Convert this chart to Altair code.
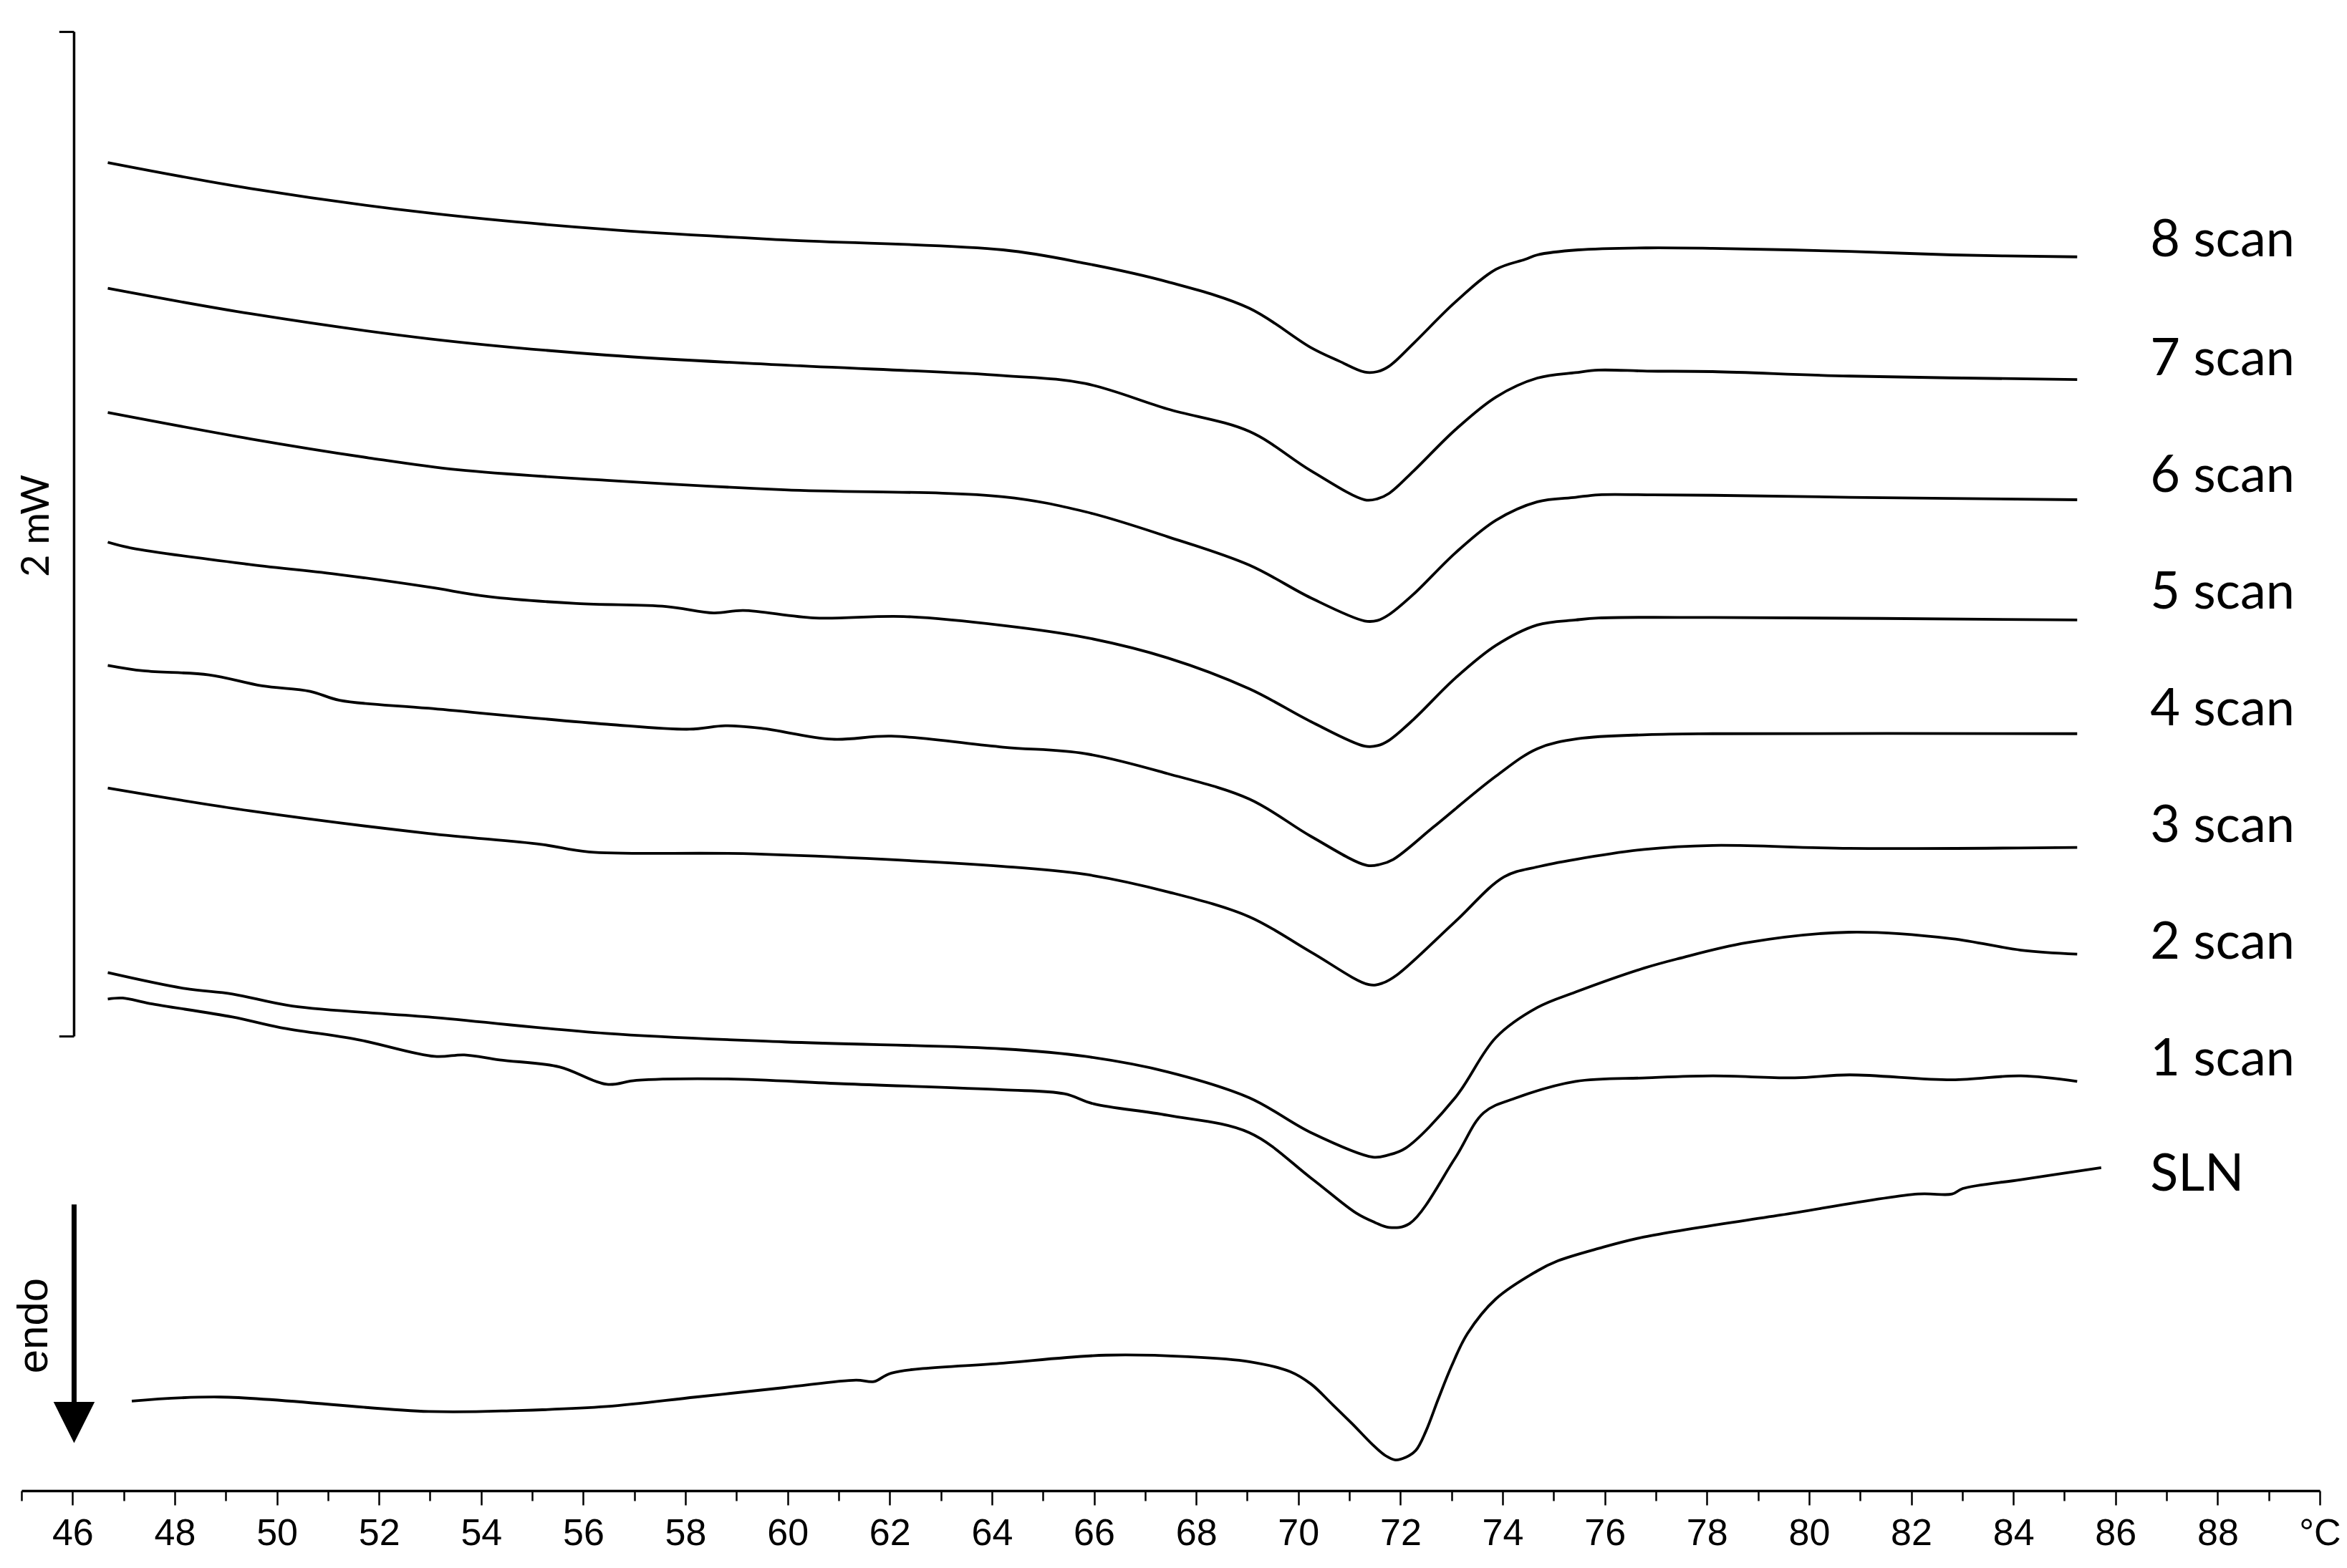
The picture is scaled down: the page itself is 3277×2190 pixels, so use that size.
import altair as alt
import pandas as pd

# ---- Readings from the thermogram: temperature (°C) and offset heat flow (µW) ----
scan8_t = [46.69, 49.49, 52.97, 56.46, 59.94, 64.22, 65.83, 67.44, 69.04, 70.25, 70.8, 71.30, 71.55, 71.78, 72.26, 73.07, 73.87, 74.44, 74.68, 75.48, 76.83, 78.11, 80.79, 82.80, 85.25]
scan8_v = [2818, 2766, 2717, 2684, 2663, 2643, 2616, 2579, 2526, 2447, 2420, 2398, 2399, 2410, 2456, 2538, 2604, 2624, 2633, 2643, 2647, 2646, 2640, 2633, 2629]

scan7_t = [46.69, 49.49, 52.97, 56.46, 59.94, 64.22, 65.83, 67.44, 69.04, 70.25, 71.30, 71.55, 71.78, 72.26, 73.07, 73.87, 74.68, 75.43, 75.88, 76.83, 78.11, 80.79, 85.25]
scan7_v = [2566, 2515, 2465, 2432, 2412, 2391, 2375, 2324, 2279, 2200, 2142, 2144, 2155, 2200, 2282, 2348, 2386, 2397, 2402, 2400, 2399, 2390, 2383]

scan6_t = [46.69, 49.49, 51.80, 53.55, 56.46, 59.94, 64.22, 65.83, 67.44, 69.04, 70.25, 71.30, 71.55, 71.78, 72.26, 73.07, 73.87, 74.68, 75.43, 75.88, 76.83, 78.11, 80.79, 85.25]
scan6_v = [2317, 2264, 2226, 2202, 2181, 2162, 2148, 2118, 2068, 2011, 1945, 1899, 1900, 1912, 1953, 2035, 2101, 2138, 2147, 2152, 2152, 2151, 2147, 2142]

scan5_t = [46.69, 47.16, 49.49, 51.23, 52.97, 54.13, 55.87, 57.62, 58.55, 59.13, 60.53, 62.27, 64.22, 65.83, 67.44, 69.04, 70.25, 71.30, 71.55, 71.78, 72.26, 73.07, 73.87, 74.68, 75.43, 75.88, 78.11, 85.25]
scan5_v = [2057, 2045, 2012, 1992, 1967, 1948, 1934, 1928, 1915, 1920, 1905, 1908, 1890, 1866, 1825, 1763, 1697, 1648, 1649, 1660, 1702, 1784, 1850, 1891, 1901, 1905, 1906, 1901]

scan4_t = [46.69, 47.39, 48.67, 49.71, 50.65, 51.23, 52.97, 56.46, 58.08, 58.78, 59.48, 60.87, 62.03, 64.22, 65.83, 67.44, 69.04, 70.25, 71.34, 71.6, 71.86, 72.66, 73.87, 74.68, 75.48, 76.83, 78.11, 85.25]
scan4_v = [1810, 1799, 1791, 1769, 1758, 1740, 1724, 1692, 1682, 1689, 1684, 1662, 1668, 1646, 1633, 1593, 1542, 1467, 1409, 1411, 1421, 1487, 1588, 1643, 1663, 1671, 1673, 1673]

scan3_t = [46.69, 49.49, 52.97, 55.18, 56.11, 59.36, 64.22, 65.83, 67.44, 69.04, 70.25, 71.38, 71.65, 71.94, 73.07, 74.03, 74.68, 75.43, 76.77, 78.11, 80.79, 85.25]
scan3_v = [1564, 1518, 1473, 1451, 1436, 1432, 1407, 1391, 1356, 1306, 1235, 1170, 1173, 1190, 1296, 1386, 1406, 1421, 1441, 1449, 1443, 1445]

scan2_t = [46.69, 48.20, 49.13, 50.30, 52.97, 56.46, 59.94, 64.22, 65.83, 67.44, 69.04, 70.25, 71.46, 71.75, 72.10, 73.07, 73.87, 74.68, 75.43, 76.77, 77.44, 78.78, 80.79, 82.80, 84.15, 85.25]
scan2_v = [1194, 1162, 1151, 1127, 1105, 1072, 1055, 1041, 1026, 995, 943, 873, 824, 828, 842, 943, 1064, 1124, 1155, 1203, 1222, 1254, 1275, 1262, 1239, 1231]

scan1_t = [46.69, 46.98, 47.51, 49.13, 50.06, 51.57, 53.09, 53.67, 54.36, 55.53, 56.46, 57.04, 58.78, 61.10, 64.22, 65.42, 65.99, 67.44, 69.04, 70.25, 71.13, 71.5, 71.78, 72.18, 73.07, 73.63, 74.27, 75.43, 76.83, 78.11, 79.72, 80.79, 82.80, 84.15, 85.25]
scan1_v = [1141, 1143, 1132, 1105, 1084, 1060, 1026, 1029, 1019, 1005, 970, 978, 981, 971, 959, 951, 931, 908, 873, 782, 712, 693, 683, 691, 822, 913, 943, 976, 983, 987, 983, 989, 979, 987, 976]

sln_t = [47.16, 48.90, 52.97, 54.71, 56.46, 58.20, 59.94, 61.34, 61.69, 62.03, 64.22, 66.23, 67.84, 69.04, 69.84, 70.25, 70.66, 71.06, 71.46, 71.7, 71.9, 72.1, 72.3, 72.5, 72.74, 73.0, 73.31, 73.87, 74.68, 75.08, 75.88, 76.77, 79.45, 82.13, 82.80, 83.01, 84.15, 85.72]
sln_v = [335, 343, 314, 316, 324, 343, 362, 377, 374, 391, 411, 427, 424, 414, 394, 369, 329, 289, 247, 226, 217, 222, 236, 275, 339, 405, 470, 540, 596, 616, 641, 664, 708, 750, 750, 761, 779, 803]

# Trace labels and their positions
label_names = ["8 scan", "7 scan", "6 scan", "5 scan", "4 scan", "3 scan", "2 scan", "1 scan", "SLN"]
label_v = [2661, 2424, 2190, 1956, 1722, 1488, 1254, 1020, 789]
label_t = 86.68

# Scale bar (2 mW) and endo arrow, in data units
bar_t = 46.03
bar_cap_t = 45.74
bar_v = [1066, 3080]
arrow_v = [729, 333]
arrow_head_v = 292

tick_values = list(range(45, 91))

series = [
    ("8 scan", scan8_t, scan8_v), ("7 scan", scan7_t, scan7_v),
    ("6 scan", scan6_t, scan6_v), ("5 scan", scan5_t, scan5_v),
    ("4 scan", scan4_t, scan4_v), ("3 scan", scan3_t, scan3_v),
    ("2 scan", scan2_t, scan2_v), ("1 scan", scan1_t, scan1_v),
    ("SLN", sln_t, sln_v),
]
rows = []
for name, ts, vs in series:
    for t, v in zip(ts, vs):
        rows.append({"series": name, "t": t, "v": v})
df = pd.DataFrame(rows)

labels_df = pd.DataFrame({"label": label_names, "t": [label_t] * len(label_names), "v": label_v})

X_SCALE = alt.Scale(domain=[45, 90], nice=False, zero=False)
Y_SCALE = alt.Scale(domain=[155.3, 3115.3], nice=False, zero=False)

x_axis = alt.Axis(
    values=tick_values,
    format="d",
    labelExpr="datum.value == 90 ? '°C' : (datum.value % 2 == 0 ? datum.label : '')",
    tickSize={"condition": {"test": "datum.value % 2 == 0", "value": 20}, "value": 14},
    tickWidth=2.5,
    tickColor="black",
    domainColor="black",
    domainWidth=3.5,
    labelFont="Liberation Sans",
    labelFontSize=52,
    labelColor="black",
    labelPadding=14,
    labelOverlap=False,
    labelFlush=False,
    labelBound=False,
    grid=False,
    title=None,
)

lines = alt.Chart(df).mark_line(
    color="black", strokeWidth=3.8, interpolate="catmull-rom"
).encode(
    x=alt.X("t:Q", scale=X_SCALE, axis=x_axis),
    y=alt.Y("v:Q", scale=Y_SCALE, axis=None),
    detail="series:N",
    order="t:Q",
)

labels = alt.Chart(labels_df).mark_text(
    align="left", baseline="middle", font="Lato", fontSize=72, color="black"
).encode(x=alt.X("t:Q", scale=X_SCALE), y=alt.Y("v:Q", scale=Y_SCALE), text="label:N")

bar_df = pd.DataFrame({"t": [bar_t], "v1": [bar_v[0]], "v2": [bar_v[1]]})
bar = alt.Chart(bar_df).mark_rule(color="black", strokeWidth=3.5).encode(
    x=alt.X("t:Q", scale=X_SCALE), y=alt.Y("v1:Q", scale=Y_SCALE), y2="v2:Q"
)
caps_df = pd.DataFrame({"t1": [bar_cap_t, bar_cap_t], "t2": [bar_t, bar_t], "v": bar_v})
caps = alt.Chart(caps_df).mark_rule(color="black", strokeWidth=3).encode(
    x=alt.X("t1:Q", scale=X_SCALE), x2="t2:Q", y=alt.Y("v:Q", scale=Y_SCALE)
)
bar_text = alt.Chart(pd.DataFrame({"t": [45.31], "v": [2090], "label": ["2 mW"]})).mark_text(
    angle=270, align="center", baseline="middle",
    font="Lato", fontSize=54, color="black",
).encode(x=alt.X("t:Q", scale=X_SCALE), y=alt.Y("v:Q", scale=Y_SCALE), text="label:N")

arrow_df = pd.DataFrame({"t": [bar_t], "v1": [arrow_v[0]], "v2": [arrow_v[1]]})
arrow = alt.Chart(arrow_df).mark_rule(color="black", strokeWidth=7).encode(
    x=alt.X("t:Q", scale=X_SCALE), y=alt.Y("v1:Q", scale=Y_SCALE), y2="v2:Q"
)
head = alt.Chart(pd.DataFrame({"t": [bar_t], "v": [arrow_head_v]})).mark_point(
    shape="M -1 -1 L 1 -1 L 0 1 Z", size=3300, filled=True, opacity=1,
    color="black", strokeWidth=0,
).encode(x=alt.X("t:Q", scale=X_SCALE), y=alt.Y("v:Q", scale=Y_SCALE))
endo_text = alt.Chart(pd.DataFrame({"t": [45.25], "v": [486], "label": ["endo"]})).mark_text(
    angle=270, align="center", baseline="middle", font="Liberation Sans",
    fontSize=60, color="black",
).encode(x=alt.X("t:Q", scale=X_SCALE), y=alt.Y("v:Q", scale=Y_SCALE), text="label:N")

chart = alt.layer(lines, labels, bar, caps, bar_text, arrow, head, endo_text).properties(
    width=3209,
    height=2062,
    autosize=alt.AutoSizeParams(type="none"),
    padding={"left": 22, "top": 12, "right": 30, "bottom": 95},
    background="white",
).configure_view(stroke=None)

chart.save("out.html", embed_options={"renderer": "svg", "actions": False})
